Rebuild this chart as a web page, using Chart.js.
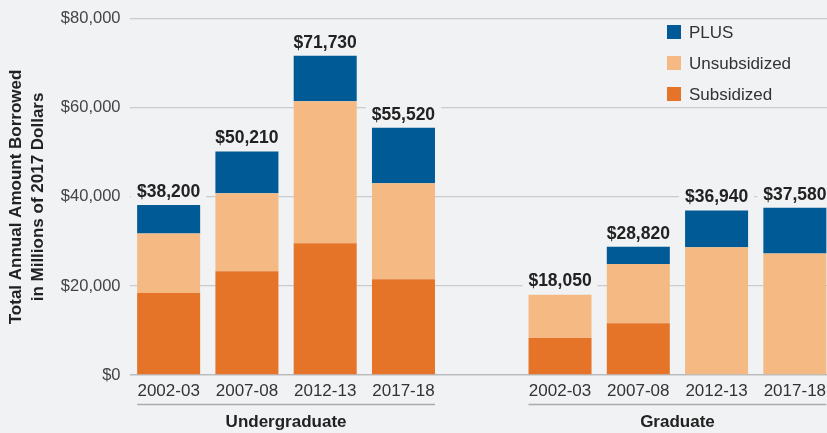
<!DOCTYPE html>
<html>
<head>
<meta charset="utf-8">
<script src="https://cdn.jsdelivr.net/npm/chart.js@4/dist/chart.umd.min.js"></script>
<style>
  html, body { margin: 0; padding: 0; background: #f1f2f4; overflow: hidden; }
  #wrap { width: 834px; height: 433px; }
</style>
</head>
<body>
<div id="wrap"><canvas id="c" width="834" height="433"></canvas></div>
<script>
// ---- Data (millions of 2017 dollars) ----
const categories = ['2002-03', '2007-08', '2012-13', '2017-18', '', '2002-03', '2007-08', '2012-13', '2017-18'];
const groups = [
  { label: 'Undergraduate', from: 0, to: 3 },
  { label: 'Graduate', from: 5, to: 8 }
];
const subsidized   = [18400, 23300, 29600, 21500, null,  8300, 11650,     0,     0];
const unsubsidized = [13400, 17550, 31900, 21600, null,  9750, 13270, 28700, 27300];
const plus         = [ 6400,  9360, 10230, 12420, null,     0,  3900,  8240, 10280];
const totals       = [38200, 50210, 71730, 55520, null, 18050, 28820, 36940, 37580];
const yTicks = [0, 20000, 40000, 60000, 80000];
const yTitle = ['Total Annual Amount Borrowed', 'in Millions of 2017 Dollars'];

const BG = '#f1f2f4';
const COLORS = { sub: '#e57428', unsub: '#f5b984', plus: '#005a96' };
const FONT = '"Liberation Sans", Arial, Helvetica, sans-serif';

const fmt = v => '$' + v.toLocaleString('en-US');

const extras = {
  id: 'extras',
  beforeDraw(chart) {
    const ctx = chart.ctx;
    ctx.save();
    ctx.fillStyle = BG;
    ctx.fillRect(0, 0, chart.width, chart.height);
    ctx.restore();
  },
  afterDatasetsDraw(chart) {
    const ctx = chart.ctx;
    const xs = chart.scales.x, ys = chart.scales.y;
    const ca = chart.chartArea;
    ctx.save();
    // total labels with background boxes
    ctx.font = 'bold 17.5px ' + FONT;
    ctx.textAlign = 'center';
    ctx.textBaseline = 'middle';
    totals.forEach((t, i) => {
      if (t == null) return;
      const x = xs.getPixelForValue(i);
      const y = ys.getPixelForValue(t) - 14;
      const w = ctx.measureText(fmt(t)).width;
      ctx.fillStyle = BG;
      ctx.fillRect(x - w / 2 - 6, y - 11, w + 12, 22);
      ctx.fillStyle = '#222222';
      ctx.fillText(fmt(t), x, y + 1);
    });

    // legend (top to bottom: PLUS, Unsubsidized, Subsidized)
    const items = [chart.data.datasets[2], chart.data.datasets[1], chart.data.datasets[0]];
    ctx.font = '17px ' + FONT;
    ctx.textAlign = 'left';
    items.forEach((ds, k) => {
      const cy = 32 + k * 31;
      ctx.fillStyle = ds.backgroundColor;
      ctx.fillRect(667, cy - 7, 14, 14);
      ctx.fillStyle = '#333333';
      ctx.fillText(ds.label, 689, cy + 1);
    });

    // group lines and labels
    const barHalf = (xs.getPixelForValue(1) - xs.getPixelForValue(0)) * 0.805 / 2;
    groups.forEach(g => {
      const x0 = xs.getPixelForValue(g.from) - barHalf;
      const x1 = xs.getPixelForValue(g.to) + barHalf;
      ctx.strokeStyle = '#a9abae';
      ctx.lineWidth = 1.5;
      ctx.beginPath();
      ctx.moveTo(x0, 404.5);
      ctx.lineTo(x1, 404.5);
      ctx.stroke();
      ctx.fillStyle = '#222222';
      ctx.font = 'bold 17px ' + FONT;
      ctx.textAlign = 'center';
      ctx.fillText(g.label, (x0 + x1) / 2, 422);
    });

    // y-axis title
    ctx.save();
    ctx.translate(16, (ca.top + ca.bottom) / 2);
    ctx.rotate(-Math.PI / 2);
    ctx.font = 'bold 17px ' + FONT;
    ctx.fillStyle = '#222222';
    ctx.textAlign = 'center';
    ctx.fillText(yTitle[0], 0, 0);
    ctx.fillText(yTitle[1], 0, 22);
    ctx.restore();

    ctx.restore();
  }
};

new Chart(document.getElementById('c'), {
  type: 'bar',
  data: {
    labels: categories,
    datasets: [
      { label: 'Subsidized', data: subsidized, backgroundColor: COLORS.sub },
      { label: 'Unsubsidized', data: unsubsidized, backgroundColor: COLORS.unsub },
      { label: 'PLUS', data: plus, backgroundColor: COLORS.plus }
    ]
  },
  options: {
    responsive: false,
    animation: false,
    layout: { padding: { top: 18, right: 0, left: 0, bottom: 0 } },
    datasets: { bar: { categoryPercentage: 1, barPercentage: 0.805, borderWidth: 0 } },
    plugins: { legend: { display: false }, tooltip: { enabled: false } },
    scales: {
      x: {
        stacked: true,
        grid: { display: false, drawTicks: false },
        border: { display: false },
        ticks: { color: '#333333', font: { family: FONT, size: 17 }, padding: 6, maxRotation: 0, autoSkip: false },
        afterFit(s) { s.height = 58; }
      },
      y: {
        stacked: true,
        min: 0, max: 80000,
        afterBuildTicks(s) { s.ticks = yTicks.map(v => ({ value: v })); },
        grid: {
          drawTicks: false,
          color: ctx => ctx.tick && ctx.tick.value === 0 ? '#b9bbbe' : '#c9cbce',
          lineWidth: ctx => ctx.tick && ctx.tick.value === 0 ? 1.5 : 1.2
        },
        border: { display: false },
        ticks: { color: '#444444', font: { family: FONT, size: 16.5 }, padding: 9, callback: v => fmt(v) },
        afterFit(s) { s.width = 129.5; }
      }
    }
  },
  plugins: [extras]
});
</script>
</body>
</html>
